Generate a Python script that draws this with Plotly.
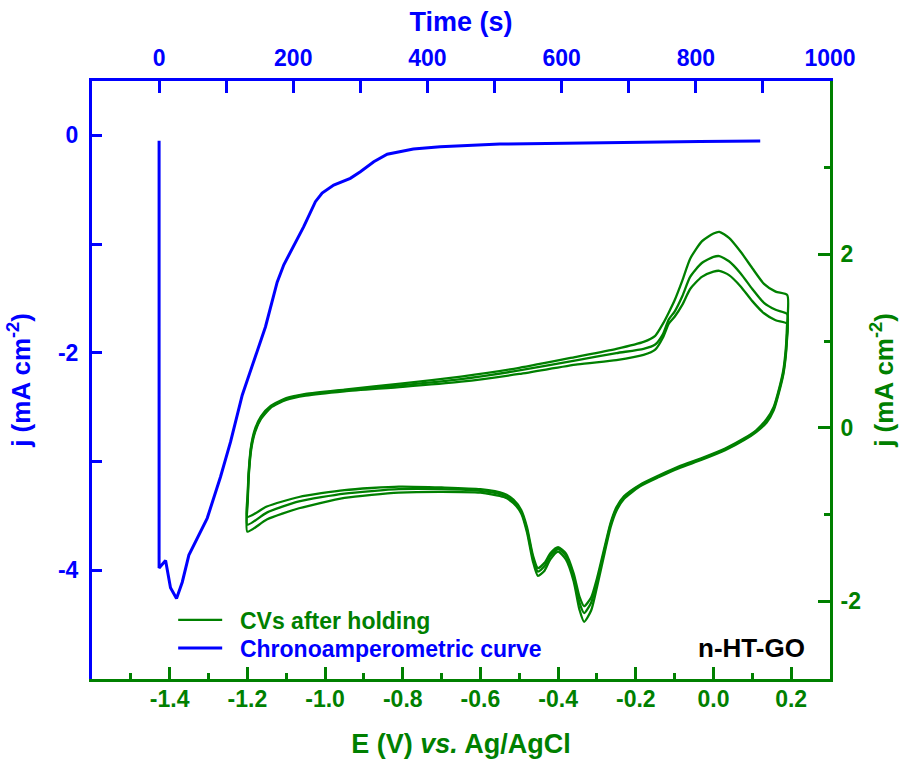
import plotly.graph_objects as go

# ---------------- data ----------------
# Chronoamperometric curve (top time axis, left j axis)
time_s = [0, 0, 9.7, 17, 26, 34.5, 44.4, 71.8, 91.6, 106.5, 123.9, 141.2, 158.6,
          176, 185.9, 215.6, 233, 243, 260.3, 285, 300, 320, 340, 379, 419,
          508, 657, 806, 896]
j_chrono = [-0.05, -3.98, -3.91, -4.16, -4.26, -4.11, -3.86, -3.52, -3.14, -2.82,
            -2.39, -2.07, -1.76, -1.35, -1.19, -0.84, -0.61, -0.53, -0.457, -0.395,
            -0.334, -0.242, -0.174, -0.126, -0.104, -0.08, -0.066, -0.057, -0.052]

# CVs after holding (bottom E axis, right j axis) - anodic sweep
E_anodic = [-1.20, -1.199, -1.196, -1.19, -1.18, -1.165, -1.14, -1.10, -1.05, -0.95,
            -0.80, -0.65, -0.50, -0.35, -0.25, -0.18, -0.15, -0.13, -0.115, -0.10,
            -0.08, -0.06, -0.03, 0.00, 0.015, 0.04, 0.07, 0.10, 0.13, 0.16, 0.19]
j_anodic_1 = [-1.03, -0.75, -0.47, -0.20, -0.01, 0.13, 0.25, 0.34, 0.39, 0.44,
              0.51, 0.59, 0.69, 0.82, 0.91, 0.99, 1.06, 1.20, 1.33, 1.47,
              1.70, 1.95, 2.15, 2.24, 2.26, 2.19, 2.03, 1.84, 1.66, 1.57, 1.53]
j_anodic_2 = [-1.12, -0.80, -0.50, -0.22, -0.03, 0.11, 0.24, 0.33, 0.38, 0.43,
              0.49, 0.56, 0.66, 0.78, 0.86, 0.91, 0.96, 1.08, 1.25, 1.34,
              1.52, 1.74, 1.90, 1.97, 1.98, 1.92, 1.78, 1.60, 1.44, 1.36, 1.31]
j_anodic_3 = [-1.20, -0.85, -0.53, -0.25, -0.05, 0.10, 0.23, 0.32, 0.37, 0.42,
              0.47, 0.53, 0.62, 0.73, 0.78, 0.84, 0.90, 1.04, 1.20, 1.28,
              1.42, 1.60, 1.74, 1.80, 1.81, 1.76, 1.63, 1.46, 1.32, 1.24, 1.20]

# cathodic sweep
E_cathodic = [0.189, 0.186, 0.18, 0.17, 0.155, 0.137, 0.11, 0.08, 0.03, -0.03,
              -0.09, -0.14, -0.19, -0.23, -0.25, -0.265, -0.28, -0.30, -0.315, -0.333,
              -0.345, -0.36, -0.38, -0.40, -0.42, -0.435, -0.452, -0.465, -0.48, -0.495,
              -0.515, -0.54, -0.60, -0.70, -0.81, -0.95, -1.067, -1.15, -1.20]
j_cathodic_1 = [1.15, 0.90, 0.67, 0.47, 0.24, 0.10, -0.03, -0.12, -0.24, -0.35,
                -0.45, -0.55, -0.66, -0.79, -0.92, -1.10, -1.37, -1.74, -1.96, -2.06,
                -1.95, -1.68, -1.45, -1.38, -1.45, -1.56, -1.62, -1.47, -1.15, -0.95,
                -0.83, -0.76, -0.71, -0.69, -0.68, -0.72, -0.80, -0.91, -1.03]
j_cathodic_2 = [1.05, 0.85, 0.64, 0.45, 0.22, 0.08, -0.04, -0.13, -0.25, -0.36,
                -0.46, -0.56, -0.67, -0.80, -0.94, -1.12, -1.40, -1.78, -2.02, -2.14,
                -2.02, -1.72, -1.48, -1.40, -1.48, -1.60, -1.66, -1.50, -1.18, -0.97,
                -0.85, -0.78, -0.73, -0.71, -0.71, -0.76, -0.85, -0.98, -1.12]
j_cathodic_3 = [1.00, 0.82, 0.62, 0.43, 0.20, 0.06, -0.05, -0.14, -0.26, -0.37,
                -0.47, -0.57, -0.68, -0.82, -0.96, -1.15, -1.44, -1.84, -2.11, -2.24,
                -2.10, -1.77, -1.52, -1.43, -1.52, -1.65, -1.71, -1.54, -1.21, -0.99,
                -0.87, -0.80, -0.75, -0.74, -0.75, -0.81, -0.93, -1.06, -1.20]

# tick labels
E_tick_vals = [-1.4, -1.2, -1.0, -0.8, -0.6, -0.4, -0.2, 0.0, 0.2]
E_tick_labels = ["-1.4", "-1.2", "-1.0", "-0.8", "-0.6", "-0.4", "-0.2", "0.0", "0.2"]
time_tick_vals = [0, 200, 400, 600, 800, 1000]
time_tick_labels = ["0", "200", "400", "600", "800", "1000"]
jL_tick_vals = [0, -2, -4]
jL_tick_labels = ["0", "-2", "-4"]
jR_tick_vals = [2, 0, -2]
jR_tick_labels = ["2", "0", "-2"]

# ---------------- styling ----------------
BLUE = "#0000FF"
GREEN = "#008000"
FONT = "Arial, 'Liberation Sans', sans-serif"
NB = "\u00a0\u00a0"

fig = go.Figure()

cycles = [(j_anodic_1, j_cathodic_1), (j_anodic_2, j_cathodic_2), (j_anodic_3, j_cathodic_3)]
for i, (ja, jc) in enumerate(cycles):
    fig.add_trace(go.Scatter(
        x=E_anodic + E_cathodic, y=ja + jc, mode="lines",
        line=dict(color=GREEN, width=2.3, shape="spline", smoothing=0.6),
        xaxis="x", yaxis="y", name=NB + "CVs after holding",
        showlegend=(i == 0), legend="legend", hoverinfo="skip"))

fig.add_trace(go.Scatter(
    x=time_s, y=j_chrono, mode="lines",
    line=dict(color=BLUE, width=3),
    xaxis="x2", yaxis="y2", name=NB + "Chronoamperometric curve",
    legend="legend2", hoverinfo="skip"))


def axfont(color, size=23):
    return dict(family=FONT, size=size, color=color, weight="bold")


fig.update_layout(
    width=909, height=765,
    margin=dict(l=92, r=79, t=81, b=86, autoexpand=False),
    paper_bgcolor="white", plot_bgcolor="white",
    font=dict(family=FONT),
    # bottom E axis (CVs)
    xaxis=dict(
        range=[-1.6, 0.3], anchor="y", side="bottom",
        showline=True, linecolor=GREEN, linewidth=3,
        ticks="inside", ticklen=12, tickwidth=2.5, tickcolor=GREEN,
        tickmode="array", tickvals=E_tick_vals, ticktext=E_tick_labels,
        tickfont=axfont(GREEN), ticklabelstandoff=-3,
        minor=dict(tickmode="linear", tick0=-1.6, dtick=0.1, ticks="inside",
                   ticklen=6, tickwidth=2.5, tickcolor=GREEN),
        showgrid=False, zeroline=False,
        title=dict(text="E (V) <i>vs.</i> Ag/AgCl", font=axfont(GREEN, 27), standoff=24),
    ),
    # right j axis (CVs)
    yaxis=dict(
        range=[-2.9, 4.0], anchor="x", side="right",
        showline=True, linecolor=GREEN, linewidth=3,
        ticks="inside", ticklen=12, tickwidth=2.5, tickcolor=GREEN,
        tickmode="array", tickvals=jR_tick_vals, ticktext=jR_tick_labels,
        tickfont=axfont(GREEN), ticklabelstandoff=3,
        minor=dict(tickmode="linear", tick0=0, dtick=1, ticks="inside",
                   ticklen=6, tickwidth=2.5, tickcolor=GREEN),
        showgrid=False, zeroline=False,
        title=dict(text="j (mA cm<sup>-2</sup>)", font=axfont(GREEN, 26), standoff=15),
    ),
    # top time axis (chronoamperometry)
    xaxis2=dict(
        range=[-100, 1000], anchor="y2", overlaying="x", side="top",
        showline=True, linecolor=BLUE, linewidth=3,
        ticks="inside", ticklen=12, tickwidth=2.5, tickcolor=BLUE,
        tickmode="array", tickvals=time_tick_vals, ticktext=time_tick_labels,
        tickfont=axfont(BLUE), ticklabelstandoff=3,
        minor=dict(tickmode="linear", tick0=0, dtick=100, ticks="inside",
                   ticklen=12, tickwidth=2.5, tickcolor=BLUE),
        showgrid=False, zeroline=False,
        title=dict(text="Time (s)", font=axfont(BLUE, 27), standoff=6),
    ),
    # left j axis (chronoamperometry)
    yaxis2=dict(
        range=[-5, 0.5], anchor="x2", overlaying="y", side="left",
        showline=True, linecolor=BLUE, linewidth=3,
        ticks="inside", ticklen=10, tickwidth=2.5, tickcolor=BLUE,
        tickmode="array", tickvals=jL_tick_vals, ticktext=jL_tick_labels,
        tickfont=axfont(BLUE), ticklabelstandoff=6,
        minor=dict(tickmode="linear", tick0=0, dtick=1, ticks="inside",
                   ticklen=10, tickwidth=2.5, tickcolor=BLUE),
        showgrid=False, zeroline=False,
        title=dict(text="j (mA cm<sup>-2</sup>)", font=axfont(BLUE, 26), standoff=20),
    ),
    legend=dict(x=0.11, y=0.0987, xanchor="left", yanchor="middle",
                bgcolor="rgba(0,0,0,0)", borderwidth=0, itemwidth=44,
                font=dict(family=FONT, size=23, color=GREEN, weight="bold")),
    legend2=dict(x=0.11, y=0.0518, xanchor="left", yanchor="middle",
                 bgcolor="rgba(0,0,0,0)", borderwidth=0, itemwidth=44,
                 font=dict(family=FONT, size=23, color=BLUE, weight="bold")),
    annotations=[dict(text="n-HT-GO", xref="paper", yref="paper",
                      x=0.894, y=0.052, xanchor="center", yanchor="middle",
                      showarrow=False,
                      font=dict(family=FONT, size=26, color="black", weight="bold"))],
    showlegend=True,
)

fig.write_html("out.html", config={"displayModeBar": False},
               post_script="document.body.style.margin='0';document.body.style.overflow='hidden';")
